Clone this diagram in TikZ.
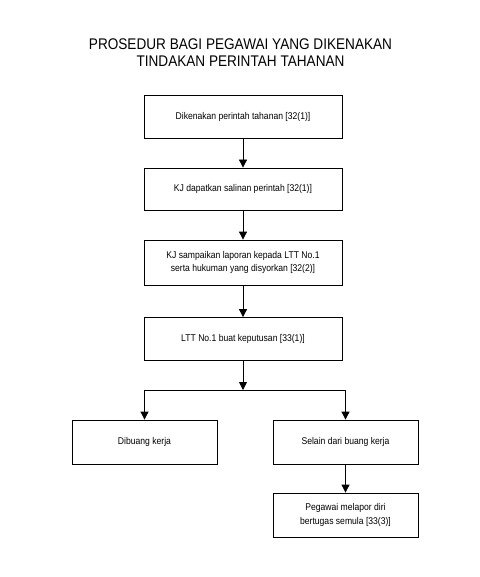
\documentclass[tikz,border=0pt]{standalone}
\usepackage{fontspec}
\setmainfont{Liberation Sans}
\newfontfamily\narrowfont[FakeStretch=0.88]{Liberation Sans}
\usetikzlibrary{arrows.meta}
\newcommand{\boxw}{198bp}
\newcommand{\smallw}{145bp}
\tikzset{
  stepbox/.style={draw, line width=0.8bp, minimum height=43bp, align=center,
    font=\narrowfont\fontsize{9.8}{13.5}\selectfont, inner sep=2bp},
  flow/.style={-{Triangle[length=8bp,width=8bp]}, line width=0.8bp}
}

\begin{document}
\begin{tikzpicture}[x=1bp, y=-1bp]
  \useasboundingbox (0, 0) rectangle (480, 577);
  \node (title) at (240.5, 53) [align=center, font=\narrowfont\fontsize{15.5}{17}\selectfont]
    {PROSEDUR BAGI PEGAWAI YANG DIKENAKAN\\TINDAKAN PERINTAH TAHANAN};
  % main column
  \node (order)   at (243, 116.5) [stepbox, minimum width=\boxw] {Dikenakan perintah tahanan [32(1)]};
  \node (copy)    at (243, 189)   [stepbox, minimum width=\boxw, minimum height=42bp] {KJ dapatkan salinan perintah [32(1)]};
  \node (report)  at (243, 262.5) [stepbox, minimum width=\boxw, minimum height=45bp]
    {KJ sampaikan laporan kepada LTT No.1\\serta hukuman yang disyorkan [32(2)]};
  \node (decide)  at (243, 339)   [stepbox, minimum width=\boxw] {LTT No.1 buat keputusan [33(1)]};
  % branches
  \node (dismiss) at (144.5, 442) [stepbox, minimum width=\smallw, minimum height=44bp] {Dibuang kerja};
  \node (other)   at (345.5, 442) [stepbox, minimum width=\smallw, minimum height=44bp] {Selain dari buang kerja};
  \node (resume)  at (345.5, 515) [stepbox, minimum width=\smallw, minimum height=44bp]
    {Pegawai melapor diri\\bertugas semula [33(3)]};
  \coordinate (split) at (243, 390);
  \draw [flow] (order) -- (copy);
  \draw [flow] (copy) -- (report);
  \draw [flow] (report) -- (decide);
  \draw [flow] (decide) -- (split);
  \draw [flow] (split) -| (dismiss);
  \draw [flow] (split) -| (other);
  \draw [flow] (other) -- (resume);
\end{tikzpicture}
\end{document}
